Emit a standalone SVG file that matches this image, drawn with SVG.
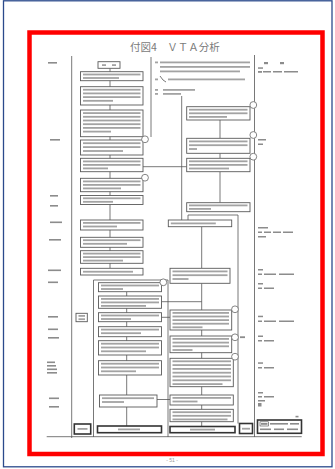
<svg xmlns="http://www.w3.org/2000/svg" width="335" height="469" viewBox="0 0 335 469">
<style>
.bx{fill:#fff;stroke:#5a5a5a;stroke-width:0.9}
.tk{fill:#fff;stroke:#333;stroke-width:1.6}
.t rect{fill:#a3a3a3}
.n rect{fill:#8c8c8c}
.ln{stroke:#555;stroke-width:0.8;fill:none}
.c{fill:#fff;stroke:#666;stroke-width:0.8}
.title{font-family:"Noto Sans CJK JP","Noto Sans",sans-serif;font-size:10.5px;fill:#7a7a7a}
.pg{font-family:"Liberation Sans",sans-serif;font-size:5px;fill:#999}
</style>
<rect width="335" height="469" fill="#fff"/>
<rect x="3.5" y="0.8" width="328.5" height="466" fill="none" stroke="#2b4a8c" stroke-width="1.3"/>
<rect x="29.5" y="32.5" width="293" height="421.5" fill="none" stroke="#ff0000" stroke-width="4.5"/>
<text class="title" x="130" y="51">付図4　ＶＴＡ分析</text>
<text class="pg" x="172" y="462" text-anchor="middle">- 51 -</text>

<g id="connectors">
<path class="ln" d="M71.7 56V438M151 57V137M254.5 55V437M46.7 436.7H301.7"/>
<path class="ln" d="M110 68.3V268.3M126.7 291.7V426"/>
<path class="ln" d="M143 166.7H186.7M181.7 96V220M220 120V138.3M220 153.3V158.3M220 171.7V202.7"/>
<path class="ln" d="M188 220V215H238V423.5M93.5 437V280H168V437"/>
<path class="ln" d="M201.7 226.7V268.3M201.7 283.3V426.5M161.5 301.7H201.7M161.5 317.3H170M157 399.5H170"/>
<path class="ln" d="M160 76L163 80L166 82"/>
</g>

<g id="time-labels" class="n">
<rect x="48" y="62" width="9" height="1.6"/>
<rect x="50" y="139" width="10" height="1.6"/>
<rect x="50" y="195" width="8" height="1.6"/>
<rect x="50" y="205" width="8" height="1.6"/>
<rect x="50" y="221.5" width="12" height="1.6"/>
<rect x="49" y="239" width="12" height="1.6"/>
<rect x="48" y="269.5" width="13" height="1.6"/>
<rect x="48" y="281.5" width="10" height="1.6"/>
<rect x="48" y="316" width="10" height="1.6"/>
<rect x="48" y="328.5" width="10" height="1.6"/>
<rect x="48" y="337" width="11" height="1.6"/>
<rect x="47" y="361.5" width="8" height="1.6"/>
<rect x="47" y="365" width="9" height="1.6"/>
<rect x="47" y="368.5" width="10" height="1.6"/>
<rect x="47" y="372" width="10" height="1.6"/>
<rect x="49" y="397.5" width="10" height="1.6"/>
<rect x="49" y="406" width="10" height="1.6"/>
</g>

<g id="a-head"><rect class="bx" x="98" y="61.7" width="22" height="6.6"/><g class="t"><rect x="102" y="64.2" width="4" height="1.8"/><rect x="112" y="64.2" width="4" height="1.8"/></g></g>
<g id="a1"><rect class="bx" x="80.5" y="71.7" width="62.5" height="9"/><g class="t"><rect x="83" y="73.6" width="57.5" height="1.8"/><rect x="83" y="77.1" width="36" height="1.8"/></g></g>
<g id="a2"><rect class="bx" x="80.5" y="86.7" width="62.5" height="18.3"/><g class="t"><rect x="83" y="88.8" width="57.5" height="1.8"/><rect x="83" y="92.5" width="57.5" height="1.8"/><rect x="83" y="96.2" width="57.5" height="1.8"/><rect x="83" y="99.9" width="30" height="1.8"/></g></g>
<g id="a3"><rect class="bx" x="80.5" y="110" width="62.5" height="26.7"/><g class="t"><rect x="83" y="112.2" width="57.5" height="1.8"/><rect x="83" y="115.9" width="57.5" height="1.8"/><rect x="83" y="119.6" width="57.5" height="1.8"/><rect x="83" y="123.3" width="57.5" height="1.8"/><rect x="83" y="127" width="57.5" height="1.8"/><rect x="83" y="130.7" width="28" height="1.8"/></g></g>
<g id="a4"><rect class="bx" x="80.5" y="140" width="62.5" height="15"/><g class="t"><rect x="83" y="142.3" width="57.5" height="1.8"/><rect x="83" y="146.2" width="57.5" height="1.8"/><rect x="83" y="150.1" width="40" height="1.8"/></g><circle class="c" cx="145" cy="139.3" r="3.4"/></g>
<g id="a5"><rect class="bx" x="80.5" y="158.3" width="62.5" height="13.4"/><g class="t"><rect x="83" y="160.5" width="57.5" height="1.8"/><rect x="83" y="164" width="57.5" height="1.8"/><rect x="83" y="167.5" width="25" height="1.8"/></g></g>
<g id="a6"><rect class="bx" x="80.5" y="178.3" width="62.5" height="13.4"/><g class="t"><rect x="83" y="180.5" width="57.5" height="1.8"/><rect x="83" y="184" width="57.5" height="1.8"/><rect x="83" y="187.5" width="38" height="1.8"/></g><circle class="c" cx="145" cy="177.7" r="3.4"/></g>
<g id="a7"><rect class="bx" x="80.5" y="195.5" width="62.5" height="9"/><g class="t"><rect x="83" y="197.4" width="57.5" height="1.8"/><rect x="83" y="200.9" width="30" height="1.8"/></g></g>
<g id="a8"><rect class="bx" x="80.5" y="220" width="62.5" height="10"/><g class="t"><rect x="83" y="222" width="57.5" height="1.8"/><rect x="83" y="225.6" width="34" height="1.8"/></g></g>
<g id="a9"><rect class="bx" x="80.5" y="237.3" width="62.5" height="10"/><g class="t"><rect x="83" y="239.3" width="57.5" height="1.8"/><rect x="83" y="242.9" width="44" height="1.8"/></g></g>
<g id="a10"><rect class="bx" x="80.5" y="250.7" width="62.5" height="12.6"/><g class="t"><rect x="83" y="252.7" width="57.5" height="1.8"/><rect x="83" y="256.2" width="57.5" height="1.8"/><rect x="83" y="259.7" width="40" height="1.8"/></g></g>
<g id="a11"><rect class="bx" x="80.5" y="268.3" width="62.5" height="6.7"/><g class="t"><rect x="83" y="270.8" width="50" height="1.8"/></g></g>

<g id="b1"><rect class="bx" x="98.5" y="282.7" width="63" height="9"/><g class="t"><rect x="101" y="284.6" width="58" height="1.8"/><rect x="101" y="288.1" width="22" height="1.8"/></g><circle class="c" cx="163.3" cy="282.3" r="3.4"/></g>
<g id="b2"><rect class="bx" x="98.5" y="296" width="63" height="12.3"/><g class="t"><rect x="101" y="298" width="58" height="1.8"/><rect x="101" y="301.5" width="58" height="1.8"/><rect x="101" y="305" width="45" height="1.8"/></g></g>
<g id="b3"><rect class="bx" x="98.5" y="312.7" width="63" height="9"/><g class="t"><rect x="101" y="314.6" width="58" height="1.8"/><rect x="101" y="318.1" width="30" height="1.8"/></g></g>
<g id="b4"><rect class="bx" x="98.5" y="326.7" width="63" height="10"/><g class="t"><rect x="101" y="328.7" width="58" height="1.8"/><rect x="101" y="332.3" width="40" height="1.8"/></g></g>
<g id="b5"><rect class="bx" x="98.5" y="340.7" width="63" height="14.3"/><g class="t"><rect x="101" y="342.8" width="58" height="1.8"/><rect x="101" y="346.6" width="58" height="1.8"/><rect x="101" y="350.4" width="45" height="1.8"/></g></g>
<g id="b6"><rect class="bx" x="98.5" y="360.7" width="63" height="14.3"/><g class="t"><rect x="101" y="362.8" width="58" height="1.8"/><rect x="101" y="366.6" width="58" height="1.8"/><rect x="101" y="370.4" width="35" height="1.8"/></g></g>
<g id="b7"><rect class="bx" x="99.5" y="395" width="57.5" height="12"/><g class="t"><rect x="102" y="397.3" width="52" height="1.8"/><rect x="102" y="401.1" width="22" height="1.8"/></g></g>
<g id="b-foot"><rect class="tk" x="97.5" y="426" width="64" height="6.7"/><g class="t"><rect x="118" y="428.5" width="22" height="1.8"/></g></g>

<g id="m-text" class="t">
<rect x="155" y="61.5" width="3" height="1.8"/><rect x="160" y="61.5" width="90" height="1.8"/>
<rect x="160" y="66" width="90" height="1.8"/><rect x="160" y="70.5" width="80" height="1.8"/>
<rect x="155" y="78.5" width="3" height="1.8"/><rect x="168" y="78.5" width="77" height="1.8"/>
<rect x="155" y="89" width="3" height="1.8"/><rect x="163" y="89" width="32" height="1.8"/>
<rect x="155" y="93" width="3" height="1.8"/><rect x="163" y="93" width="18" height="1.8"/>
</g>
<g id="m1"><rect class="bx" x="186.7" y="106.7" width="63.3" height="13.3"/><g class="t"><rect x="189" y="108.8" width="58.5" height="1.8"/><rect x="189" y="112.4" width="58.5" height="1.8"/><rect x="189" y="116" width="38" height="1.8"/></g><circle class="c" cx="253.3" cy="105" r="3.4"/></g>
<g id="m2"><rect class="bx" x="186.7" y="138.3" width="63.3" height="15"/><g class="t"><rect x="189" y="140.5" width="58.5" height="1.8"/><rect x="189" y="144.3" width="58.5" height="1.8"/><rect x="189" y="148.1" width="8" height="1.8"/></g><circle class="c" cx="253.3" cy="135" r="3.4"/></g>
<g id="m3"><rect class="bx" x="186.7" y="158.3" width="63.3" height="13.4"/><g class="t"><rect x="189" y="160.4" width="58.5" height="1.8"/><rect x="189" y="164" width="58.5" height="1.8"/><rect x="189" y="167.6" width="40" height="1.8"/></g><circle class="c" cx="253.3" cy="156.7" r="3.4"/></g>
<g id="m4"><rect class="bx" x="186.7" y="202.7" width="63.3" height="9"/><g class="t"><rect x="189" y="204.5" width="58.5" height="1.8"/><rect x="189" y="208" width="22" height="1.8"/></g></g>
<g id="m5"><rect class="bx" x="168.3" y="220" width="63.4" height="6.7"/><g class="t"><rect x="170.8" y="222.5" width="45" height="1.8"/></g></g>
<g id="m6"><rect class="bx" x="170" y="268.3" width="60" height="15"/><g class="t"><rect x="172.5" y="270.5" width="55" height="1.8"/><rect x="172.5" y="274.3" width="55" height="1.8"/><rect x="172.5" y="278.1" width="16" height="1.8"/></g></g>
<g id="m7"><rect class="bx" x="170" y="310" width="61.7" height="20"/><g class="t"><rect x="172.5" y="312" width="56.5" height="1.8"/><rect x="172.5" y="315.6" width="56.5" height="1.8"/><rect x="172.5" y="319.2" width="56.5" height="1.8"/><rect x="172.5" y="322.8" width="56.5" height="1.8"/><rect x="172.5" y="326.4" width="30" height="1.8"/></g><circle class="c" cx="235" cy="309.3" r="3.4"/></g>
<g id="m8"><rect class="bx" x="170" y="336" width="61.7" height="16.7"/><g class="t"><rect x="172.5" y="338" width="56.5" height="1.8"/><rect x="172.5" y="341.7" width="56.5" height="1.8"/><rect x="172.5" y="345.4" width="56.5" height="1.8"/><rect x="172.5" y="349.1" width="20" height="1.8"/></g><circle class="c" cx="235" cy="337.3" r="3.4"/><g class="n"><rect x="240" y="336.3" width="5" height="1.8"/></g></g>
<g id="m9"><rect class="bx" x="170" y="358.3" width="63.3" height="28.4"/><g class="t"><rect x="172.5" y="360.4" width="58.5" height="1.8"/><rect x="172.5" y="364.2" width="58.5" height="1.8"/><rect x="172.5" y="368" width="58.5" height="1.8"/><rect x="172.5" y="371.8" width="58.5" height="1.8"/><rect x="172.5" y="375.6" width="58.5" height="1.8"/><rect x="172.5" y="379.4" width="58.5" height="1.8"/><rect x="172.5" y="383.2" width="50" height="1.8"/></g><circle class="c" cx="235" cy="356.7" r="3.4"/></g>
<g id="m10"><rect class="bx" x="170" y="395" width="63.3" height="10"/><g class="t"><rect x="172.5" y="397" width="58.5" height="1.8"/><rect x="172.5" y="400.6" width="25" height="1.8"/></g></g>
<g id="m11"><rect class="bx" x="170" y="409.3" width="63.3" height="12.4"/><g class="t"><rect x="172.5" y="411.3" width="58.5" height="1.8"/><rect x="172.5" y="414.9" width="58.5" height="1.8"/><rect x="172.5" y="418.5" width="55" height="1.8"/></g></g>
<g id="m-foot"><rect class="tk" x="170" y="426.5" width="65" height="6.2"/><g class="t"><rect x="190" y="428.7" width="25" height="1.8"/></g></g>

<g id="side-label"><rect class="bx" x="76" y="313.3" width="11.3" height="8.4"/><g class="t"><rect x="78.5" y="315" width="6.5" height="1.8"/><rect x="78.5" y="318.3" width="6.5" height="1.8"/></g></g>
<g id="foot-left"><rect class="tk" x="74.3" y="424" width="16.4" height="10"/><g class="t"><rect x="77.5" y="428" width="10" height="1.8"/></g></g>
<g id="foot-right"><rect class="tk" x="239.5" y="423.5" width="13" height="10"/><g class="t"><rect x="242" y="427.8" width="8" height="1.8"/></g></g>

<g id="notes" class="n">
<rect x="264" y="62" width="4" height="2.2" fill="#555"/><rect x="280" y="62" width="4" height="2.2"/>
<rect x="258" y="67.3" width="5" height="1.5"/>
<rect x="258" y="71" width="4" height="1.8"/><rect x="263" y="71" width="8" height="1.5"/><rect x="273" y="71" width="9" height="1.5"/><rect x="284" y="71" width="14" height="1.5"/>
<rect x="258" y="139" width="8" height="1.5"/><rect x="258" y="143.5" width="5" height="1.5"/>
<rect x="258" y="227" width="10" height="1.5"/><rect x="258" y="231.5" width="4" height="1.5"/><rect x="264" y="231.5" width="7" height="1.5"/><rect x="273" y="231.5" width="8" height="1.5"/><rect x="283" y="231.5" width="10" height="1.5"/><rect x="258" y="236" width="8" height="1.5"/>
<rect x="258" y="269" width="5" height="1.5"/><rect x="258" y="273.5" width="4" height="1.5"/><rect x="264" y="273.5" width="12" height="1.5"/><rect x="279" y="273.5" width="15" height="1.5"/>
<rect x="258" y="283" width="5" height="1.5"/><rect x="258" y="287.5" width="4" height="1.5"/><rect x="264" y="287.5" width="10" height="1.5"/>
<rect x="258" y="315.7" width="5" height="1.5"/><rect x="258" y="320.5" width="4" height="1.5"/><rect x="264" y="320.5" width="12" height="1.5"/><rect x="279" y="320.5" width="15" height="1.5"/>
<rect x="258" y="335.5" width="5" height="1.5"/><rect x="258" y="340" width="4" height="1.5"/><rect x="264" y="340" width="10" height="1.5"/>
<rect x="258" y="362.3" width="5" height="1.5"/><rect x="258" y="367" width="4" height="1.5"/><rect x="264" y="367" width="10" height="1.5"/>
<rect x="258" y="392" width="5" height="1.5"/><rect x="258" y="396" width="4" height="1.5"/><rect x="264" y="396" width="10" height="1.5"/><rect x="258" y="400" width="7" height="1.5"/>
<rect x="258" y="403" width="3.5" height="3.5" fill="#333"/>
<rect x="295.5" y="415.8" width="3" height="1.6"/>
</g>
<g id="legend"><rect class="tk" x="257.5" y="420" width="44" height="13.3"/><rect x="260" y="421.8" width="8.5" height="4.2" fill="none" stroke="#444" stroke-width="0.6"/><g class="n"><rect x="261" y="423" width="6.5" height="1.8"/><rect x="270" y="423" width="18" height="1.6"/><rect x="290" y="423" width="9" height="1.6"/><rect x="260" y="428.5" width="11" height="1.6"/><rect x="274" y="428.5" width="10" height="1.6"/><rect x="287" y="428.5" width="11" height="1.6"/></g></g>
</svg>
